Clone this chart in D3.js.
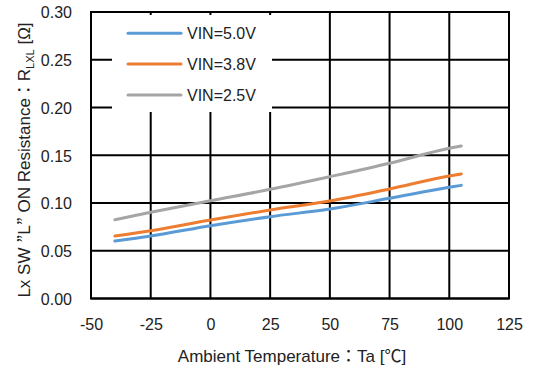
<!DOCTYPE html>
<html><head><meta charset="utf-8">
<script src="https://cdn.jsdelivr.net/npm/d3@7"></script>
<style>body{margin:0;background:#fff}svg{display:block}text{font-family:"Liberation Sans",Arial,"Noto Sans CJK JP",sans-serif;fill:#222}.cjk{font-family:"Noto Sans CJK JP",sans-serif}</style>
</head><body><svg id="c" width="533" height="369"></svg>
<script>
const temps = [-40, -25, 0, 25, 50, 75, 100, 105];
const vin50 = [0.0602, 0.0654, 0.0762, 0.0857, 0.0937, 0.1049, 0.1164, 0.1185];
const vin38 = [0.0654, 0.0710, 0.0822, 0.0927, 0.1021, 0.1147, 0.1283, 0.1304];
const vin25 = [0.0825, 0.0903, 0.1024, 0.1143, 0.1276, 0.1416, 0.1573, 0.1597];
const seriesNames = ["VIN=5.0V", "VIN=3.8V", "VIN=2.5V"];
const xTicks = [-50, -25, 0, 25, 50, 75, 100, 125];
const yTicks = [0, 0.05, 0.10, 0.15, 0.20, 0.25, 0.30];
const colors = ["#5B9BD5", "#ED7D31", "#A5A5A5"];

const svg = d3.select("#c");
const L = 91, R = 509, T = 12, B = 298.5;
const x = d3.scaleLinear().domain([-50, 125]).range([L, R]);
const y = d3.scaleLinear().domain([0, 0.30]).range([B, T]);

const g = svg.append("g");
g.selectAll(".vg").data(xTicks).enter().append("line")
  .attr("x1", d => x(d)).attr("x2", d => x(d)).attr("y1", T).attr("y2", B)
  .attr("stroke", "#000").attr("stroke-width", 2);
g.selectAll(".hg").data(yTicks).enter().append("line")
  .attr("x1", L).attr("x2", R).attr("y1", d => y(d)).attr("y2", d => y(d))
  .attr("stroke", "#000").attr("stroke-width", 2);
g.append("rect").attr("x", L).attr("y", T).attr("width", R - L).attr("height", B - T)
  .attr("fill", "none").attr("stroke", "#000").attr("stroke-width", 2);

const xAxis = d3.axisBottom(x).tickValues(xTicks).tickSize(0).tickPadding(0).tickFormat(d => String(d));
const xa = svg.append("g").attr("transform", `translate(0,${B})`).call(xAxis);
xa.select(".domain").remove();
xa.selectAll("text").attr("y", 31.5).attr("dy", 0).style("font-size", "16px").attr("fill", "#222")
  .style("font-family", '"Liberation Sans",Arial,sans-serif');
const yAxis = d3.axisLeft(y).tickValues(yTicks).tickSize(0).tickPadding(0).tickFormat(d3.format(".2f"));
const ya = svg.append("g").attr("transform", `translate(${L},0)`).call(yAxis);
ya.select(".domain").remove();
ya.selectAll("text").attr("x", -19).attr("dy", "0.36em").style("font-size", "16px").attr("fill", "#222")
  .style("font-family", '"Liberation Sans",Arial,sans-serif');

svg.append("rect").attr("x", 112).attr("y", 15).attr("width", 160).attr("height", 97).attr("fill", "#fff");

const data = [vin50, vin38, vin25];
const line = d3.line().x((d, i) => x(temps[i])).y(d => y(d)).curve(d3.curveMonotoneX);
[2, 1, 0].forEach(k => {
  svg.append("path").datum(data[k]).attr("d", line).attr("fill", "none")
    .attr("stroke", colors[k]).attr("stroke-width", 3).attr("stroke-linecap", "round");
});

const legY = [33.3, 64, 95];
seriesNames.forEach((n, k) => {
  svg.append("line").attr("x1", 128).attr("x2", 181).attr("y1", legY[k]).attr("y2", legY[k])
    .attr("stroke", colors[k]).attr("stroke-width", 3).attr("stroke-linecap", "round");
  svg.append("text").attr("x", 187).attr("y", legY[k]).attr("dy", "0.36em")
    .style("font-size", "16px").text(n);
});

const xt = svg.append("text").attr("x", 292).attr("y", 362).attr("text-anchor", "middle")
  .style("font-size", "17px");
xt.append("tspan").text("Ambient Temperature");
xt.append("tspan").attr("class", "cjk").text("：");
xt.append("tspan").text("Ta [");
xt.append("tspan").attr("class", "cjk").text("℃");
xt.append("tspan").text("]");

const yt = svg.append("text").attr("transform", "translate(30,160) rotate(-90)")
  .attr("text-anchor", "middle").style("font-size", "17px");
yt.append("tspan").text("Lx SW ");
yt.append("tspan").attr("class", "cjk").text("”");
yt.append("tspan").text("L");
yt.append("tspan").attr("class", "cjk").text("”");
yt.append("tspan").text(" ON Resistance");
yt.append("tspan").attr("class", "cjk").text("：");
yt.append("tspan").text("R");
yt.append("tspan").attr("dy", 4).style("font-size", "11px").text("LXL");
yt.append("tspan").attr("dy", -4).text(" [Ω]");
</script></body></html>
